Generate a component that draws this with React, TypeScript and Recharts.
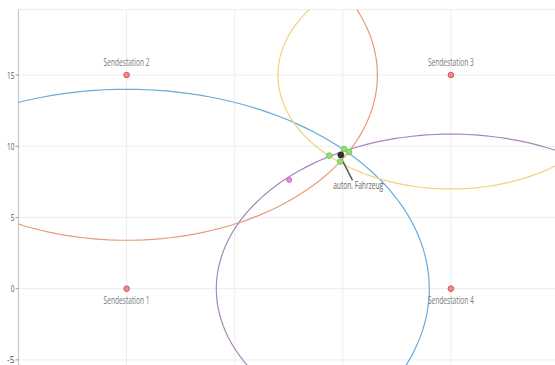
import React from 'react';
import { ScatterChart, Scatter, XAxis, YAxis, CartesianGrid } from 'recharts';

// Stations (transmitters)
const stationNames = ['Sendestation 1', 'Sendestation 2', 'Sendestation 3', 'Sendestation 4'];
const stationX = [0, 0, 15, 15];
const stationY = [0, 15, 15, 0];
const stationLabelAbove = [false, true, true, false];

// Measured distance circles around each station
const circleRadii = [14, 11.6, 8, 10.85];
const circleColors = ['#66abdc', '#e89a76', '#f0d27a', '#a985b9'];

// Axis ticks
const xTicks = [-5, 0, 5, 10, 15, 20];
const yTicks = [-5, 0, 5, 10, 15];

// Pairwise intersection points
const intersectX = [9.37, 10.06, 10.29, 9.88];
const intersectY = [9.34, 9.81, 9.6, 8.92];

// Vehicle position
const vehicleX = [9.91];
const vehicleY = [9.39];

// Other estimate
const estimateX = [7.52];
const estimateY = [7.63];

// Annotation
const annotationX = [9.95, 10.45];
const annotationY = [9.1, 7.6];
const vehicleLabel = 'auton. Fahrzeug';
const vehicleLabelX = [10.71];
const vehicleLabelY = [7.0];

const circleData = stationX.map((cx, i) => {
  const pts: { x: number; y: number }[] = [];
  for (let a = 0; a <= 360; a += 2) {
    const t = (a * Math.PI) / 180;
    pts.push({ x: cx + circleRadii[i] * Math.cos(t), y: stationY[i] + circleRadii[i] * Math.sin(t) });
  }
  return pts;
});

const stations = stationX.map((x, i) => ({ x, y: stationY[i], name: stationNames[i], above: stationLabelAbove[i] }));
const intersections = intersectX.map((x, i) => ({ x, y: intersectY[i] }));
const vehicle = vehicleX.map((x, i) => ({ x, y: vehicleY[i] }));
const estimate = estimateX.map((x, i) => ({ x, y: estimateY[i] }));
const annotation = annotationX.map((x, i) => ({ x, y: annotationY[i] }));
const vehicleLabelData = vehicleLabelX.map((x, i) => ({ x, y: vehicleLabelY[i], name: vehicleLabel }));

const FONT = '"Open Sans", "DejaVu Sans", sans-serif';

const YTick = (props: any) => {
  const { x, y, payload } = props;
  const s = String(payload.value);
  return (
    <text x={x} y={y} dy={3.5} textAnchor="end" fontSize={9.5} fill="#555" fontFamily={FONT}
      textLength={s.length * 3.7} lengthAdjust="spacingAndGlyphs">
      {s}
    </text>
  );
};

const None = () => <g />;

const StationShape = (props: any) => {
  const { cx, cy, payload } = props;
  const ty = payload.above ? cy - 9.5 : cy + 15.5;
  return (
    <g>
      <circle cx={cx} cy={cy} r={2.8} fill="#ee8a8a" stroke="#dc5656" strokeWidth={1} />
      <text x={cx} y={ty} textAnchor="middle" fontSize={10} fill="#777" fontFamily={FONT}
        textLength={46} lengthAdjust="spacingAndGlyphs">
        {payload.name}
      </text>
    </g>
  );
};

const LabelShape = (props: any) => {
  const { cx, cy, payload } = props;
  return (
    <text x={cx} y={cy} textAnchor="middle" fontSize={10} fill="#666" fontFamily={FONT}
      textLength={50} lengthAdjust="spacingAndGlyphs">
      {payload.name}
    </text>
  );
};

const GreenDot = (props: any) => (
  <circle cx={props.cx} cy={props.cy} r={2.8} fill="#94de78" stroke="#74cc58" strokeWidth={1} />
);
const BlackDot = (props: any) => (
  <circle cx={props.cx} cy={props.cy} r={3} fill="#333" stroke="#222" strokeWidth={0.8} />
);
const MagentaDot = (props: any) => (
  <circle cx={props.cx} cy={props.cy} r={2.4} fill="#e897e8" stroke="#c754c7" strokeWidth={1} />
);

export default function App() {
  return (
    <div style={{ position: 'absolute', left: 0, top: 0, width: 555, height: 365, overflow: 'hidden', background: '#fff' }}>
      <ScatterChart width={560} height={370} margin={{ top: 9.5, right: 1, bottom: 3, left: 0 }}>
        <CartesianGrid stroke="#ededed" strokeWidth={1} />
        <XAxis
          type="number"
          dataKey="x"
          orientation="top"
          domain={[-5, 20]}
          ticks={xTicks}
          allowDataOverflow
          height={0}
          mirror
          tickSize={4}
          tickFormatter={() => ''}
          axisLine={{ stroke: '#c2c2c2', strokeWidth: 2 }}
          tickLine={{ stroke: '#aaa' }}
        />
        <YAxis
          type="number"
          dataKey="y"
          domain={[-5.5, 19.6]}
          ticks={yTicks}
          allowDataOverflow
          width={18.5}
          tickSize={3}
          tickMargin={1}
          tick={<YTick />}
          axisLine={{ stroke: '#c8c8c8', strokeWidth: 1.2 }}
          tickLine={{ stroke: '#999' }}
        />
        {circleData.map((pts, i) => (
          <Scatter
            key={i}
            data={pts}
            line={{ stroke: circleColors[i], strokeWidth: 1.2, fill: 'none' }}
            lineType="joint"
            lineJointType="linear"
            shape={<None />}
            isAnimationActive={false}
          />
        ))}
        <Scatter
          data={annotation}
          line={{ stroke: '#5a5a5a', strokeWidth: 1.5, fill: 'none' }}
          lineType="joint"
          lineJointType="linear"
          shape={<None />}
          isAnimationActive={false}
        />
        <Scatter data={estimate} shape={<MagentaDot />} isAnimationActive={false} />
        <Scatter data={intersections} shape={<GreenDot />} isAnimationActive={false} />
        <Scatter data={vehicle} shape={<BlackDot />} isAnimationActive={false} />
        <Scatter data={stations} shape={<StationShape />} isAnimationActive={false} />
        <Scatter data={vehicleLabelData} shape={<LabelShape />} isAnimationActive={false} />
      </ScatterChart>
    </div>
  );
}
